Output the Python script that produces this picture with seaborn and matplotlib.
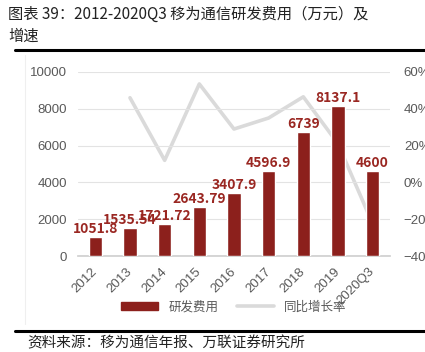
import matplotlib
matplotlib.use("Agg")
import matplotlib.pyplot as plt
import matplotlib.lines as mlines
import matplotlib.patches as mpatches
import seaborn as sns
import pandas as pd
import numpy as np

# Dados do gráfico
anos = ["2012", "2013", "2014", "2015", "2016", "2017", "2018", "2019", "2020Q3"]
gastos = [1051.8, 1535.54, 1721.72, 2643.79, 3407.9, 4596.9, 6739, 8137.1, 4600]
rotulos = ["1051.8", "1535.54", "1721.72", "2643.79", "3407.9", "4596.9", "6739", "8137.1", "4600"]
crescimento = [np.nan, 0.46, 0.12, 0.535, 0.29, 0.35, 0.465, 0.21, -0.225]

sns.set_theme(style="white")
plt.rcParams['font.family'] = ['Noto Sans CJK SC', 'DejaVu Sans']

df = pd.DataFrame({"Ano": anos, "Gasto": gastos, "Cresc": crescimento})
df["pos"] = np.arange(len(df))

vermelho = "#8C201C"
cinza_linha = "#DADADA"
cinza_txt = "#595959"
fonte_num = ["Liberation Sans", "DejaVu Sans"]

fig = plt.figure(figsize=(4.25, 3.52), dpi=100)
ax = fig.add_axes([0.1835, 0.2727, 0.7341, 0.5228])

sns.barplot(data=df, x="Ano", y="Gasto", color=vermelho, width=0.39,
            saturation=1, ax=ax, zorder=3)
ax.set_ylim(0, 10000)
ax.set_yticks(range(0, 10001, 2000))
ax.set_xlim(-0.5, 8.5)
ax.grid(axis="y", color="#E3E3E3", linewidth=0.8, zorder=0)
ax.set_xlabel("")
ax.set_ylabel("")
for s in ["top", "left", "right"]:
    ax.spines[s].set_visible(False)
ax.spines["bottom"].set_color("#D0D0D0")
ax.tick_params(axis="y", labelsize=9.5, colors=cinza_txt, length=0, pad=8)
ax.tick_params(axis="x", labelsize=9.5, colors=cinza_txt, length=0, pad=10)
for lbl in ax.get_yticklabels():
    lbl.set_family(fonte_num)
for lbl in ax.get_xticklabels():
    lbl.set_family(fonte_num)
    lbl.set_rotation(45)
    lbl.set_ha("right")
    lbl.set_va("center")
    lbl.set_rotation_mode("anchor")

# Rótulos das barras
for i, (v, t) in enumerate(zip(gastos, rotulos)):
    ax.text(i, v + 440, t, ha="center", va="center", color="#9A2722",
            fontsize=10, fontweight="bold", zorder=5)

# Linha de crescimento no eixo secundário
ax2 = ax.twinx()
sns.lineplot(data=df, x="pos", y="Cresc", color=cinza_linha, linewidth=2.6,
             ax=ax2, zorder=2)
ax2.set_ylim(-0.4, 0.6)
ax2.set_yticks(np.arange(-0.4, 0.61, 0.2))
ax2.set_yticklabels(["\u221240%", "\u221220%", "0%", "20%", "40%", "60%"])
ax2.set_ylabel("")
ax2.set_xlim(-0.5, 8.5)
for s in ["top", "left", "right", "bottom"]:
    ax2.spines[s].set_visible(False)
ax2.tick_params(axis="y", labelsize=9.5, colors=cinza_txt, length=0, pad=10)
for lbl in ax2.get_yticklabels():
    lbl.set_family(fonte_num)
ax.set_zorder(ax2.get_zorder() + 1)
ax.patch.set_visible(False)

# Legenda
h1 = mpatches.Patch(color=vermelho, label="研发费用")
h2 = mlines.Line2D([], [], color=cinza_linha, linewidth=2.6, label="同比增长率")
fig.legend(handles=[h1, h2], loc="center", bbox_to_anchor=(0.55, 0.128), ncol=2,
           frameon=False, fontsize=9, labelcolor=cinza_txt, handlelength=3.0,
           handleheight=0.5, columnspacing=1.5)

# Título e fonte
fig.text(0.02, 0.96, "图表 39：2012-2020Q3 移为通信研发费用（万元）及", fontsize=11,
         ha="left", va="center", color="#222222")
fig.text(0.02, 0.898, "增速", fontsize=11, ha="left", va="center", color="#222222")
fig.add_artist(mlines.Line2D([0.035, 1.0], [0.857, 0.857], color="black", linewidth=2.2))
fig.add_artist(mlines.Line2D([0.035, 1.0], [0.06, 0.06], color="black", linewidth=2.2))
fig.add_artist(mlines.Line2D([0.059, 0.059], [0.08, 0.845], color="#EFEFEF", linewidth=0.8))
fig.text(0.065, 0.025, "资料来源：移为通信年报、万联证券研究所", fontsize=10.5,
         ha="left", va="center", color="#222222", style="italic")

fig.savefig("out.png", dpi=100)
